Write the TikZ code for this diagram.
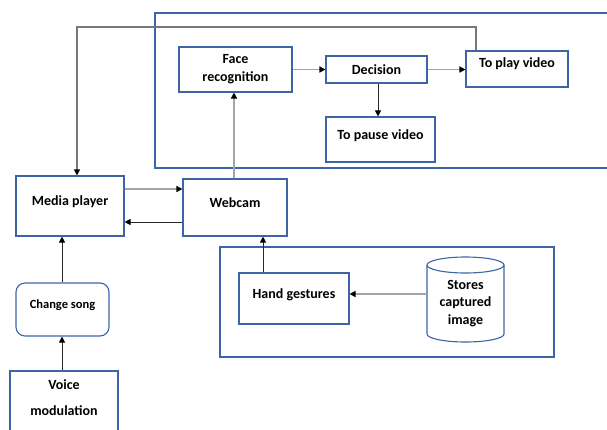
\documentclass[tikz,border=0pt]{standalone}
\usepackage{fontspec}
\setmainfont{Carlito}
\usetikzlibrary{arrows.meta}
\definecolor{boxblue}{RGB}{62,100,168}
\definecolor{linegray}{RGB}{165,165,165}
\definecolor{feedgray}{RGB}{120,120,120}
\definecolor{darkline}{RGB}{40,40,40}
\tikzset{
  box/.style={draw=boxblue, line width=1.1pt, fill=white, inner sep=0pt},
  txt/.style={font=\bfseries\fontsize{14}{18}\selectfont, align=center, inner sep=0pt},
  smalltxt/.style={font=\bfseries\fontsize{12.5}{14}\selectfont, align=center, inner sep=0pt},
  frame/.style={draw=boxblue, line width=1.1pt},
  tip/.style={-{Triangle[length=6pt,width=6pt,color=black]}},
  grayarrow/.style={tip, draw=linegray, line width=1.6pt},
  blackarrow/.style={tip, draw=darkline, line width=0.9pt},
}
\begin{document}
\begin{tikzpicture}[x=1pt,y=-1pt]
\useasboundingbox (0,0) rectangle (607,429);
\clip (0,0) rectangle (607,429);
\fill[white] (0,0) rectangle (607,429);

% grouping frames
\draw[frame] (155,13) rectangle (615,168);
\draw[frame] (220,247) rectangle (554,357);

% upper group: recognition and decision
\node[box, minimum width=113pt, minimum height=45pt] (face) at (235.5,69.5) {};
\node[txt] at (face.center) {Face\\recognition};
\node[box, minimum width=101pt, minimum height=27pt] (dec) at (376.5,69.5) {};
\node[txt] at (dec.center) {Decision};
\node[box, minimum width=102pt, minimum height=36pt] (play) at (517,69) {};
\node[txt, yshift=5pt] at (play.center) {To play video};
\node[box, minimum width=109pt, minimum height=45pt] (pause) at (380.5,139.5) {};
\node[txt, yshift=4pt] at (pause.center) {To pause video};

% main blocks
\node[box, minimum width=108pt, minimum height=60pt] (mp) at (70,206) {};
\node[txt, yshift=4pt] at (mp.center) {Media player};
\node[box, minimum width=104pt, minimum height=57pt] (cam) at (235,207.5) {};
\node[txt, yshift=5pt] at (cam.center) {Webcam};
\node[box, rounded corners=9pt, minimum width=93pt, minimum height=53pt] (song) at (62.5,309.5) {};
\node[smalltxt, yshift=4pt] at (song.center) {Change song};
\node[box, minimum width=108pt, minimum height=80pt] (voice) at (64,411) {};
\node[txt, font=\bfseries\fontsize{14}{26}\selectfont] at (64,398) {Voice\\modulation};

% lower group: gestures and storage
\node[box, minimum width=110pt, minimum height=51pt] (hand) at (294,298.5) {};
\node[txt, yshift=4pt] at (hand.center) {Hand gestures};
\node[minimum width=77pt, minimum height=85pt, inner sep=0pt] (store) at (465.5,299.5) {};
\draw[box] (427,265) -- (427,334)
  arc[start angle=180, end angle=360, x radius=38.5pt, y radius=8pt] -- (504,265);
\draw[box] (465.5,265) ellipse[x radius=38.5pt, y radius=8pt];
\node[txt, font=\bfseries\fontsize{14}{17.5}\selectfont] at (465.5,303.5) {Stores\\captured\\image};

% connectors
\draw[grayarrow] (mp.east |- 0,189) -- (cam.west |- 0,189);
\draw[blackarrow] (cam.west |- 0,222) -- (mp.east |- 0,222);
\draw[grayarrow] (cam.north -| 234,0) -- (face.south -| 234,0);
\draw[grayarrow] (face.east) -- (dec.west);
\draw[grayarrow] (dec.east) -- (play.west |- dec.east);
\draw[blackarrow] (dec.south -| 378,0) -- (pause.north -| 378,0);
\draw[tip, draw=feedgray, line width=1.1pt] (play.north -| 476,0) -- (476,27) -- (77,27) -- (mp.north -| 77,0);
\draw[blackarrow] (song.north -| 62,0) -- (mp.south -| 62,0);
\draw[blackarrow] (voice.north -| 62,0) -- (song.south -| 62,0);
\draw[blackarrow] (hand.north -| 263,0) -- (cam.south -| 263,0);
\draw[grayarrow] (store.west |- 0,294) -- (hand.east |- 0,294);
\end{tikzpicture}
\end{document}
